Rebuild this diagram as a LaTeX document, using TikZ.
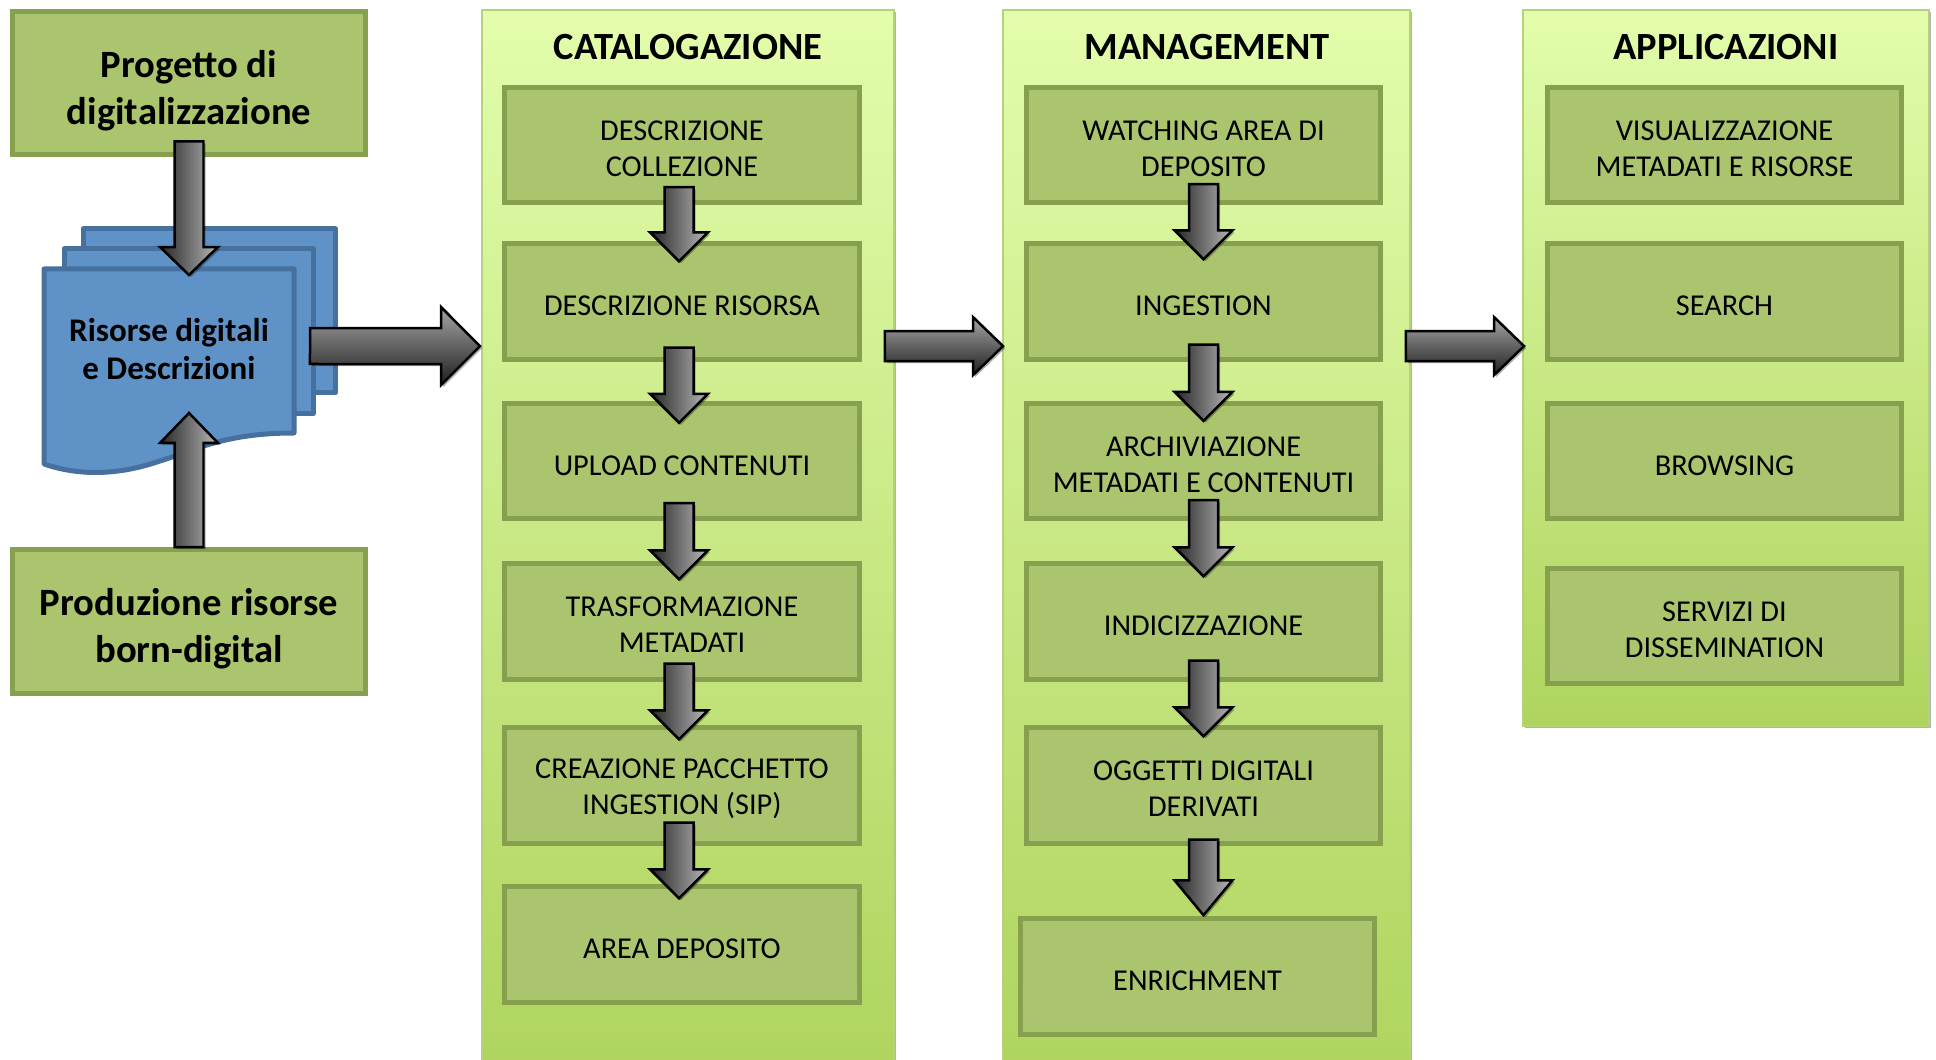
\documentclass[tikz,border=0pt]{standalone}
\usepackage{fontspec}
\setmainfont{Carlito}
\usetikzlibrary{calc,shadows}
\definecolor{boxfill}{HTML}{ABC56E}
\definecolor{boxline}{HTML}{86A050}
\definecolor{paneltop}{HTML}{E3FDAC}
\definecolor{panelbot}{HTML}{AFD45E}
\definecolor{panelline}{HTML}{B4D27A}
\definecolor{docfill}{HTML}{5F93C8}
\definecolor{docline}{HTML}{46709D}
\tikzset{
	softshadow/.style={drop shadow={shadow xshift=1.2pt, shadow yshift=-1.2pt, opacity=0.3, fill=black}},
	panel/.style={draw=panelline, line width=0.04cm, top color=paneltop, bottom color=panelbot, minimum width=8.24cm, inner sep=0, softshadow},
	paneltitle/.style={font=\fontsize{21.9}{26}\selectfont\bfseries},
	stepbox/.style={draw=boxline, fill=boxfill, line width=0.1cm, minimum width=7.09cm, minimum height=2.31cm, inner sep=0, align=center, font=\fontsize{17.25}{20.4}\selectfont, execute at begin node={\rule{0pt}{16.5pt}}},
	twoline/.style={execute at begin node={\rule{0pt}{35.6pt}}},
	srcbox/.style={stepbox, minimum width=7.05cm, minimum height=2.88cm, font=\fontsize{22}{26.6}\selectfont\bfseries, execute at begin node={\rule{0pt}{50.5pt}}},
	docsheet/.style={draw=docline, fill=docfill, line width=0.1cm, line join=round},
	arrowdown/.style={left color=black!85, right color=black!28},
	arrowright/.style={top color=black!35, bottom color=black!88},
}
% shaded block arrow: style, tail, tip (half shaft : half head : head length)
\def\blockarrow[#1]#2#3(#4:#5:#6){
	\coordinate (batail) at (#2);
	\coordinate (batip) at (#3);
	\coordinate (babase) at ($(batip)!#6!(batail)$);
	\draw[line width=0.05cm, draw=black, line join=miter, softshadow, #1]
		($(batail)!#4!90:(batip)$) -- ($(babase)!#4!90:(batip)$) -- ($(babase)!#5!90:(batip)$) -- (batip)
		-- ($(babase)!#5!-90:(batip)$) -- ($(babase)!#4!-90:(batip)$) -- ($(batail)!#4!-90:(batip)$) -- cycle;
}

\begin{document}
\begin{tikzpicture}[x=0.02cm, y=-0.02cm]
		%%%%% START %%%%%
		\useasboundingbox (0, 0) rectangle (1936, 1060);
		
		\node[srcbox] (project) at (189, 83) {Progetto di\\digitalizzazione};
		\node[srcbox] (production) at (189, 621.5) {Produzione risorse\\born-digital};
		
		\draw[docsheet] (83, 229) rectangle (335, 393);
		\draw[docsheet] (64, 249) rectangle (313, 414);
		\draw[docsheet] (44, 269) -- (294, 269) -- (294, 433)
			.. controls (225, 433) and (195, 450) .. (160, 461)
			.. controls (125, 473) and (85, 478) .. (44, 464) -- cycle;
		\node[align=center, font=\fontsize{18.8}{22}\selectfont\bfseries] (resources) at (169, 349) {Risorse digitali\\e Descrizioni};
		\coordinate (resin) at (189, 275);
		\coordinate (resup) at (189, 413);
		\coordinate (resout) at (310, 346);
		
		\node[panel, minimum height=21.2cm] (catpanel) at (688, 540) {};
		\node[panel, minimum height=21.2cm, minimum width=8.14cm] (mgmtpanel) at (1206.5, 540) {};
		\node[panel, minimum height=14.32cm, minimum width=8.12cm] (apppanel) at (1726, 368) {};
		\node[paneltitle] (cattitle) at (688, 47) {CATALOGAZIONE};
		\node[paneltitle] (mgmttitle) at (1207, 47) {MANAGEMENT};
		\node[paneltitle] (apptitle) at (1726, 47) {APPLICAZIONI};
		
		\node[stepbox, twoline] (coll) at (682, 145) {DESCRIZIONE\\COLLEZIONE};
		\node[stepbox] (risorsa) at (682, 301.5) {DESCRIZIONE RISORSA};
		\node[stepbox] (upload) at (682, 461) {UPLOAD CONTENUTI};
		\node[stepbox, twoline] (trasf) at (682, 621.5) {TRASFORMAZIONE\\METADATI};
		\node[stepbox, twoline] (sip) at (682, 785.5) {CREAZIONE PACCHETTO\\INGESTION (SIP)};
		\node[stepbox] (deposito) at (682, 944.5) {AREA DEPOSITO};
		
		\node[stepbox, twoline] (watching) at (1203.5, 145) {WATCHING AREA DI\\DEPOSITO};
		\node[stepbox] (ingestion) at (1203.5, 301.5) {INGESTION};
		\node[stepbox, twoline] (archiv) at (1203.5, 461) {ARCHIVIAZIONE\\METADATI E CONTENUTI};
		\node[stepbox] (indic) at (1203.5, 621.5) {INDICIZZAZIONE};
		\node[stepbox, twoline] (oggetti) at (1203.5, 785.5) {OGGETTI DIGITALI\\DERIVATI};
		\node[stepbox] (enrich) at (1197.5, 976.5) {ENRICHMENT};
		
		\node[stepbox, twoline] (visual) at (1724.5, 145) {VISUALIZZAZIONE\\METADATI E RISORSE};
		\node[stepbox] (search) at (1724.5, 301.5) {SEARCH};
		\node[stepbox] (browsing) at (1724.5, 461) {BROWSING};
		\node[stepbox, twoline] (dissem) at (1724.5, 626) {SERVIZI DI\\DISSEMINATION};
		
		\blockarrow[arrowdown]{$(project.south)+(0, -16)$}{resin}(0.29cm:0.58cm:0.56cm)
		\blockarrow[arrowdown]{production.north}{resup}(0.29cm:0.58cm:0.6cm)
		\blockarrow[arrowright]{resout}{$(catpanel.north west)+(-1, 337)$}(0.36cm:0.78cm:0.78cm)
		
		\blockarrow[arrowdown]{$(coll.south)+(-3, -18)$}{$(risorsa.north)+(-3, 20)$}(0.29cm:0.58cm:0.58cm)
		\blockarrow[arrowdown]{$(risorsa.south)+(-3, -14)$}{$(upload.north)+(-3, 22)$}(0.29cm:0.58cm:0.58cm)
		\blockarrow[arrowdown]{$(upload.south)+(-3, -18)$}{$(trasf.north)+(-3, 18)$}(0.29cm:0.58cm:0.58cm)
		\blockarrow[arrowdown]{$(trasf.south)+(-3, -18)$}{$(sip.north)+(-3, 14)$}(0.29cm:0.58cm:0.58cm)
		\blockarrow[arrowdown]{$(sip.south)+(-3, -23)$}{$(deposito.north)+(-3, 14)$}(0.29cm:0.58cm:0.58cm)
		
		\blockarrow[arrowdown]{$(watching.south)+(0, -21)$}{$(ingestion.north)+(0, 18)$}(0.29cm:0.58cm:0.58cm)
		\blockarrow[arrowdown]{$(ingestion.south)+(0, -17)$}{$(archiv.north)+(0, 20)$}(0.29cm:0.58cm:0.58cm)
		\blockarrow[arrowdown]{$(archiv.south)+(0, -21)$}{$(indic.north)+(0, 15)$}(0.29cm:0.58cm:0.58cm)
		\blockarrow[arrowdown]{$(indic.south)+(0, -21)$}{$(oggetti.north)+(0, 11)$}(0.29cm:0.58cm:0.58cm)
		\blockarrow[arrowdown]{$(oggetti.south)+(0, -6)$}{$(enrich.north)+(6, -1)$}(0.29cm:0.58cm:0.7cm)
		
		\blockarrow[arrowright]{$(catpanel.north east)+(-10, 337)$}{$(mgmtpanel.north west)+(1, 337)$}(0.3cm:0.58cm:0.6cm)
		\blockarrow[arrowright]{$(mgmtpanel.north east)+(-5, 337)$}{$(apppanel.north west)+(2, 337)$}(0.3cm:0.58cm:0.6cm)
		
		%%%%% END %%%%%
	\end{tikzpicture}
\end{document}
